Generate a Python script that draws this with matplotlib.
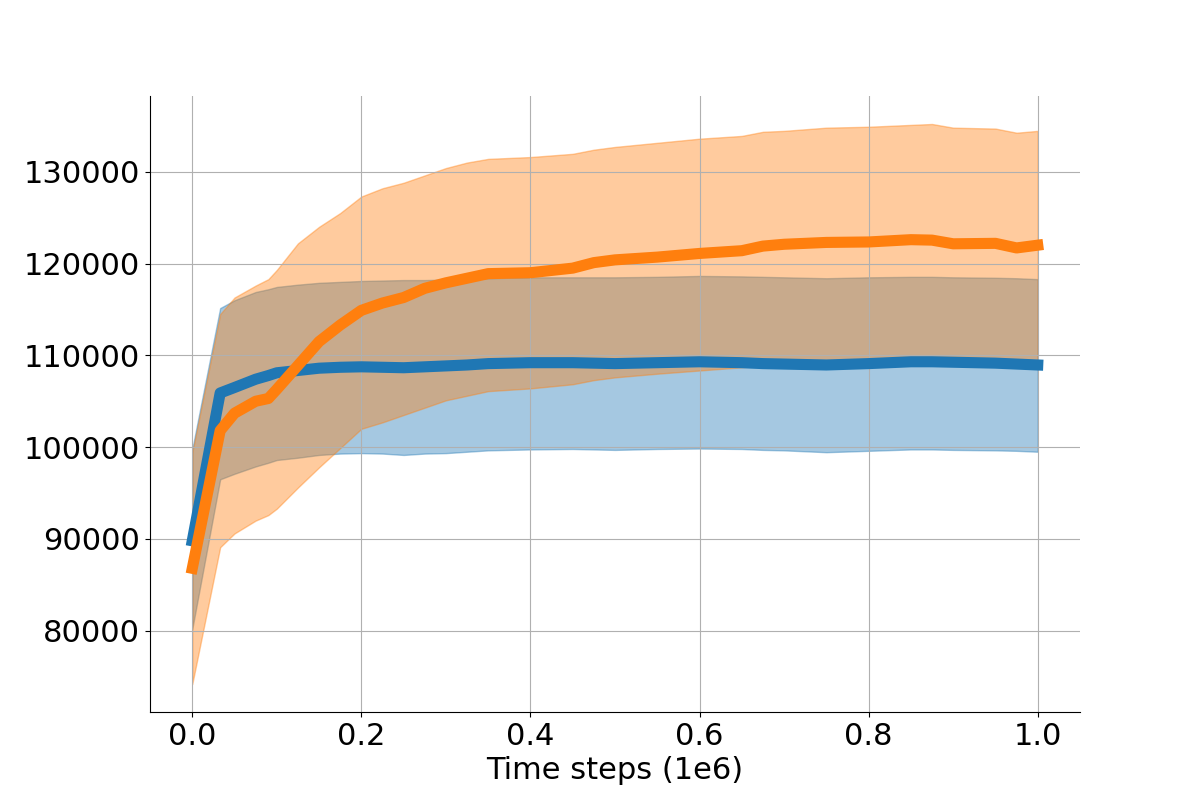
import numpy as np
import matplotlib
matplotlib.use("Agg")
import matplotlib.pyplot as plt

# time steps in units of 1e6
steps = [0, 0.033, 0.05, 0.075, 0.09, 0.1, 0.125, 0.15, 0.175, 0.2, 0.225, 0.25,
         0.275, 0.3, 0.325, 0.35, 0.4, 0.45, 0.475, 0.5, 0.55, 0.6, 0.65, 0.675,
         0.7, 0.75, 0.8, 0.85, 0.875, 0.9, 0.95, 0.975, 1.0]

blue_mean = [89800, 105900, 106500, 107400, 107800, 108100, 108350, 108600, 108700,
             108750, 108700, 108650, 108750, 108850, 108950, 109100, 109200, 109200,
             109150, 109100, 109200, 109300, 109200, 109100, 109050, 108950, 109100,
             109300, 109300, 109250, 109150, 109050, 108950]
blue_upper = [99800, 115150, 116000, 116900, 117200, 117450, 117700, 117900, 118000,
              118100, 118150, 118200, 118200, 118250, 118300, 118400, 118500, 118500,
              118500, 118500, 118550, 118650, 118600, 118550, 118500, 118400, 118500,
              118550, 118550, 118500, 118450, 118400, 118300]
blue_lower = [80200, 96500, 97100, 97900, 98300, 98600, 98850, 99150, 99300,
              99350, 99300, 99150, 99300, 99350, 99500, 99650, 99750, 99800,
              99750, 99700, 99800, 99850, 99800, 99700, 99650, 99450, 99600,
              99750, 99750, 99700, 99650, 99600, 99500]

orange_mean = [86800, 101800, 103700, 105000, 105300, 106300, 108900, 111500, 113300,
               114900, 115700, 116300, 117300, 117900, 118400, 118900, 119000, 119500,
               120100, 120400, 120700, 121100, 121400, 121900, 122100, 122300, 122350,
               122600, 122550, 122150, 122200, 121700, 122000]
orange_upper = [99400, 114500, 116300, 117600, 118300, 119300, 122200, 124000, 125500,
                127300, 128200, 128800, 129600, 130400, 131000, 131400, 131600, 131950,
                132400, 132700, 133150, 133600, 133900, 134350, 134450, 134800, 134900,
                135100, 135200, 134800, 134700, 134250, 134450]
orange_lower = [74200, 89100, 90600, 92000, 92600, 93300, 95600, 97800, 99900,
                102000, 102700, 103500, 104300, 105100, 105600, 106100, 106400, 106850,
                107300, 107600, 108000, 108350, 108700, 108900, 108950, 108850, 108950,
                109100, 109100, 109000, 108950, 108900, 108850]

plt.rcParams['font.size'] = 22
fig, ax = plt.subplots(figsize=(12, 8), dpi=100)

ax.fill_between(steps, blue_lower, blue_upper, color='tab:blue', alpha=0.4)
ax.fill_between(steps, orange_lower, orange_upper, color='tab:orange', alpha=0.4)
ax.plot(steps, blue_mean, color='tab:blue', linewidth=8)
ax.plot(steps, orange_mean, color='tab:orange', linewidth=8)

ax.set_xlabel('Time steps (1e6)')
ax.grid(True)
ax.spines['top'].set_visible(False)
ax.spines['right'].set_visible(False)

fig.savefig('out.png')
